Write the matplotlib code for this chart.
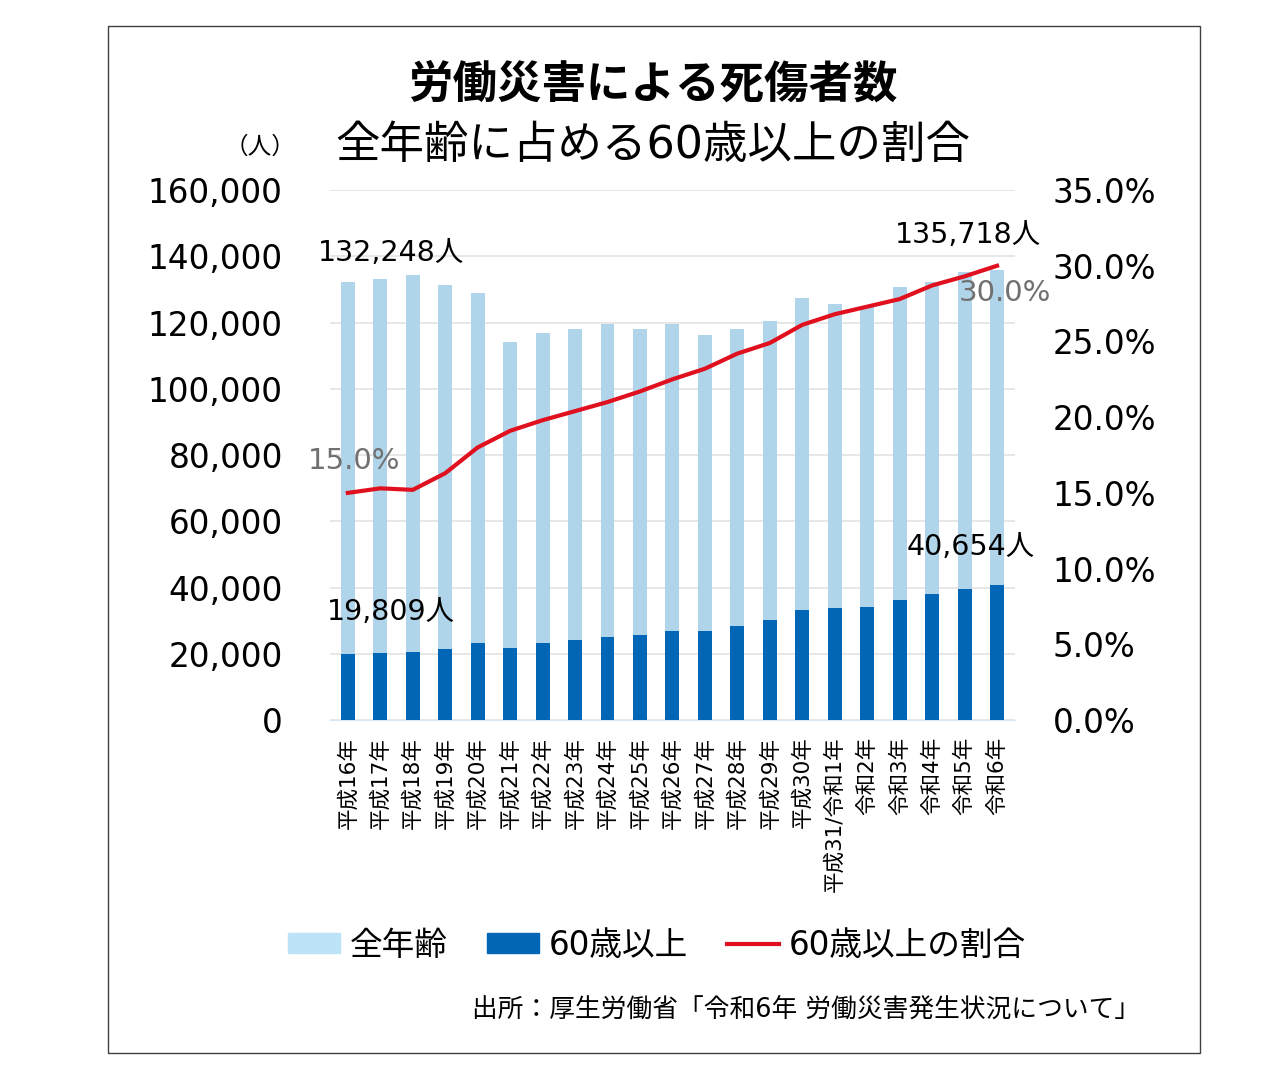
import matplotlib
matplotlib.use("Agg")
import matplotlib.pyplot as plt
from matplotlib.patches import Patch, Rectangle
from matplotlib.lines import Line2D
from matplotlib.ticker import FuncFormatter

# DejaVu for the Verdana-like digits, Noto CJK for Japanese
plt.rcParams['font.family'] = ['DejaVu Sans', 'Noto Sans CJK JP']

# data
years = ['平成16年', '平成17年', '平成18年', '平成19年', '平成20年', '平成21年',
         '平成22年', '平成23年', '平成24年', '平成25年', '平成26年', '平成27年',
         '平成28年', '平成29年', '平成30年', '平成31/令和1年', '令和2年', '令和3年',
         '令和4年', '令和5年', '令和6年']
total = [132248, 133050, 134298, 131478, 129026, 114150, 116730, 117960, 119580,
         118160, 119530, 116310, 117910, 120460, 127330, 125610, 124950, 130590,
         132360, 135370, 135718]
senior = [19809, 20350, 20430, 21400, 23210, 21800, 23130, 24100, 25070, 25610,
          26900, 27000, 28500, 30050, 33250, 33700, 34150, 36300, 37950, 39700, 40654]
ratio = [15.0, 15.3, 15.2, 16.3, 18.0, 19.1, 19.8, 20.4, 21.0, 21.7, 22.5, 23.2,
         24.2, 24.9, 26.1, 26.8, 27.3, 27.8, 28.7, 29.3, 30.0]

light = '#B0D5EA'
dark = '#0066B5'
red = '#E0101E'

fig = plt.figure(figsize=(12.85, 10.86), dpi=100)
fig.patches.append(Rectangle((108 / 1285, 1 - 1053 / 1086), 1092 / 1285, 1027 / 1086,
                             transform=fig.transFigure, fill=False, edgecolor='#404040', lw=1))

ax = fig.add_axes([0.2568, 0.337, 0.533, 0.488])
x = list(range(len(years)))
ax.bar(x, total, width=0.43, color=light, zorder=2)
ax.bar(x, senior, width=0.43, color=dark, zorder=3)
ax.set_ylim(0, 160000)
ax.set_xlim(-0.55, len(years) - 0.45)
ax.set_yticks(range(0, 160001, 20000))
ax.yaxis.set_major_formatter(FuncFormatter(lambda v, p: f'{int(v):,}'))
ax.grid(axis='y', color='#E3E3E3', lw=1.2, zorder=0)
for s in ['top', 'right', 'left']:
    ax.spines[s].set_visible(False)
ax.spines['bottom'].set_color('#D9E8F2')
ax.tick_params(axis='y', length=0, pad=34, labelsize=23.5)
ax.tick_params(axis='x', length=0, pad=12, labelsize=15.5)
ax.set_xticks(x)
ax.set_xticklabels(years, rotation=90, va='top')

ax2 = ax.twinx()
ax2.plot(x, ratio, color=red, lw=3, zorder=4)
ax2.set_ylim(0, 35)
ax2.set_yticks(range(0, 36, 5))
ax2.yaxis.set_major_formatter(FuncFormatter(lambda v, p: f'{v:.1f}%'))
ax2.tick_params(axis='y', length=0, pad=27, labelsize=23.5)
for s in ax2.spines.values():
    s.set_visible(False)

# value labels
ax.text(1.33, 141000, f'{total[0]:,}人', ha='center', va='center', fontsize=20.5)
ax.text(1.33, 32600, f'{senior[0]:,}人', ha='center', va='center', fontsize=20.5)
ax.text(19.1, 146400, f'{total[-1]:,}人', ha='center', va='center', fontsize=20.5)
ax.text(19.2, 52200, f'{senior[-1]:,}人', ha='center', va='center', fontsize=20.5)
ax2.text(0.18, 17.1, f'{ratio[0]:.1f}%', ha='center', va='center', fontsize=21, color='#707070')
ax2.text(20.25, 28.2, f'{ratio[-1]:.1f}%', ha='center', va='center', fontsize=21, color='#707070')

fig.text(653 / 1285, 1 - 85 / 1086, '労働災害による死傷者数', ha='center', va='center',
         fontsize=32, fontweight='bold')
fig.text(653 / 1285, 1 - 145 / 1086, '全年齢に占める60歳以上の割合', ha='center', va='center',
         fontsize=32)
fig.text(260 / 1285, 1 - 147 / 1086, '（人）', ha='center', va='center', fontsize=17)

handles = [Patch(color='#BDE3F7'), Patch(color=dark), Line2D([], [], color=red, lw=3)]
fig.legend(handles, ['全年齢', '60歳以上', '60歳以上の割合'], loc='center',
           bbox_to_anchor=(657 / 1285, 1 - 945 / 1086), ncol=3, frameon=False, fontsize=23.5,
           handlelength=1.6, handleheight=0.55, columnspacing=1.2, handletextpad=0.3)

fig.text(1140 / 1285, 1 - 1010 / 1086, '出所：厚生労働省「令和6年 労働災害発生状況について」',
         ha='right', va='center', fontsize=18.5)

fig.savefig('out.png', dpi=100)
